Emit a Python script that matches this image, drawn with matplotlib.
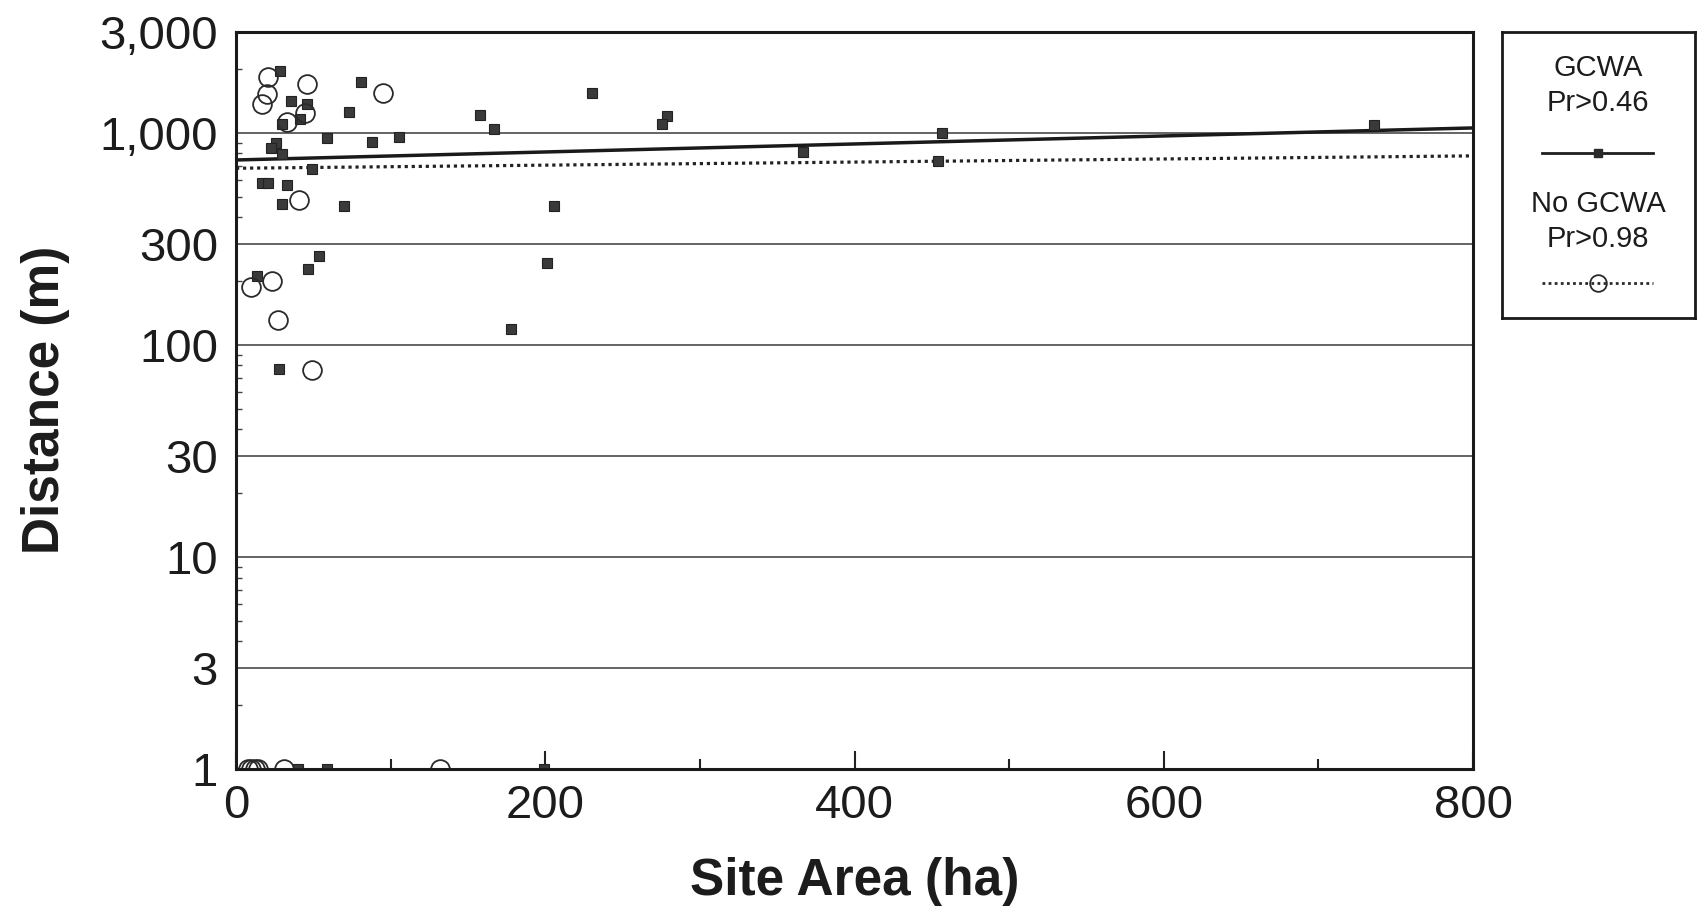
import matplotlib
matplotlib.use("Agg")
import matplotlib.pyplot as plt
from matplotlib.ticker import FixedLocator, LogLocator, NullFormatter

plt.rcParams['font.family'] = ['Liberation Sans', 'DejaVu Sans']

# ---------------- data ----------------
gcwa_area = [28.7, 80.9, 230, 35.6, 45.7, 73.1, 41.4, 29.6, 157.8, 167.1,
             278.6, 275.3, 58.9, 88.2, 105.2, 25.9, 22.4, 30, 49, 17, 20.5,
             32.8, 29.6, 69.9, 205.5, 53.5, 46.8, 201, 13.8, 177.9, 28,
             367, 456.9, 454.3, 735.8, 40, 58.7, 199]
gcwa_dist = [1967, 1740, 1549, 1416, 1371, 1260, 1161, 1103, 1220, 1048,
             1203, 1099, 944, 910, 961, 894, 847, 794, 676, 579, 579,
             568, 462, 454, 454, 264, 228, 243, 212, 119, 76.8,
             811, 997, 740, 1094, 1, 1, 1]

nogcwa_area = [20.9, 46.1, 95.1, 20.2, 16.6, 44.6, 32.8, 40.5, 23.1, 9.5,
               27.4, 49.4, 8, 10, 12, 14, 31, 132]
nogcwa_dist = [1844, 1702, 1549, 1528, 1371, 1247, 1131, 480, 201, 188,
               131, 76, 1, 1, 1, 1, 1, 1]

# fitted regression lines (endpoints)
fit_x = [0, 800]
gcwa_fit = [745, 1055]
nogcwa_fit = [681, 779]

y_ticks = [1, 3, 10, 30, 100, 300, 1000, 3000]
y_ticklabels = ["1", "3", "10", "30", "100", "300", "1,000", "3,000"]
x_ticks = [0, 200, 400, 600, 800]
x_minor = [100, 300, 500, 700]

legend_labels = [("GCWA", "Pr>0.46"), ("No GCWA", "Pr>0.98")]

# ---------------- figure ----------------
W, H = 1700, 908
fig = plt.figure(figsize=(W / 100, H / 100), dpi=100)
fig.patch.set_facecolor('white')

L, R, T, B = 236, 1473, 31.7, 769
ax = fig.add_axes([L / W, 1 - B / H, (R - L) / W, (B - T) / H])
ax.set_yscale('log')
ax.set_xlim(0, 800)
ax.set_ylim(1, 3000)

txt = '#1c1c1c'
for g in y_ticks[1:-1]:
    ax.axhline(g, color='#3a3a3a', lw=1.1, zorder=1)

ax.plot(fit_x, gcwa_fit, color='#1a1a1a', lw=2.5, solid_capstyle='butt', zorder=3)
ax.plot(fit_x, nogcwa_fit, color='#222222', lw=2.3, linestyle=(0, (1, 1.2)), zorder=3)

ax.plot(gcwa_area, gcwa_dist, linestyle='none', marker='s', markersize=6.6,
        markerfacecolor='#3a3a3a', markeredgecolor='#222222', markeredgewidth=0.8, zorder=4)
ax.plot(nogcwa_area, nogcwa_dist, linestyle='none', marker='o', markersize=13.5,
        markerfacecolor='none', markeredgecolor='#2a2a2a', markeredgewidth=1.3, zorder=5)

for s in ax.spines.values():
    s.set_linewidth(2.2)
    s.set_color('#1a1a1a')
    s.set_zorder(6)

ax.yaxis.set_major_locator(FixedLocator(y_ticks))
ax.set_yticklabels(y_ticklabels)
ax.yaxis.set_minor_locator(LogLocator(base=10, subs=range(2, 10)))
ax.yaxis.set_minor_formatter(NullFormatter())
ax.tick_params(axis='y', which='major', direction='in', length=0, pad=13,
               labelsize=34, labelcolor=txt)
ax.tick_params(axis='y', which='minor', direction='in', length=4, width=1, color='#444444')

ax.set_xticks(x_ticks)
ax.set_xticks(x_minor, minor=True)
ax.tick_params(axis='x', which='major', direction='in', length=13, width=1.5,
               pad=11, labelsize=34, labelcolor=txt, color='#222222')
ax.tick_params(axis='x', which='minor', direction='in', length=7, width=1.5, color='#222222')

ax.set_xlabel('Site Area (ha)', fontsize=37, fontweight='bold', color=txt, labelpad=21)
ax.set_ylabel('Distance (m)', fontsize=37, fontweight='bold', color=txt, labelpad=21)

# ---------------- legend box ----------------
lx0, lx1, ly0, ly1 = 1501.7, 1695, 31.7, 318
lg = fig.add_axes([lx0 / W, 1 - ly1 / H, (lx1 - lx0) / W, (ly1 - ly0) / H])
lg.set_xlim(0, lx1 - lx0)
lg.set_ylim(ly1 - ly0, 0)
lg.set_xticks([])
lg.set_yticks([])
for s in lg.spines.values():
    s.set_linewidth(2.0)
    s.set_color('#1a1a1a')
cx = (lx1 - lx0) / 2
tk = dict(ha='center', va='center', fontsize=21, color=txt)
lg.text(cx, 36, legend_labels[0][0], **tk)
lg.text(cx, 71, legend_labels[0][1], **tk)
lg.plot([40, 151], [121, 121], color='#1e1e1e', lw=2.0)
lg.plot([cx], [121], marker='s', markersize=6, color='#2a2a2a')
lg.text(cx, 172, legend_labels[1][0], **tk)
lg.text(cx, 207, legend_labels[1][1], **tk)
lg.plot([40, 151], [251.5, 251.5], color='#2a2a2a', lw=2.0, linestyle=(0, (1, 1.2)))
lg.plot([cx], [251.5], marker='o', markersize=12, markerfacecolor='none',
        markeredgecolor='#2a2a2a', markeredgewidth=1.3)

fig.savefig('out.png', dpi=100, facecolor='white')
